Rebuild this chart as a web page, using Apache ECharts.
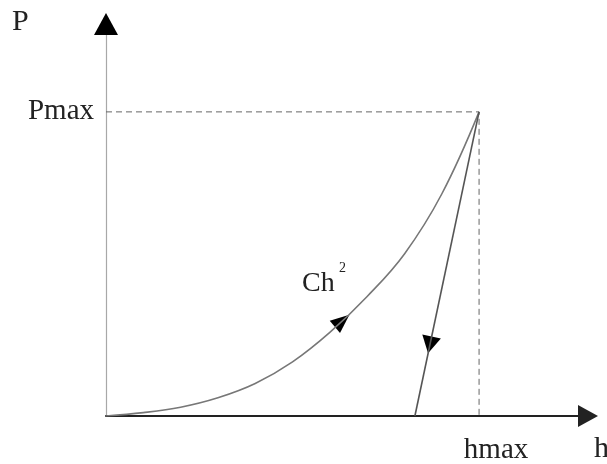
<!DOCTYPE html>
<html>
<head>
<meta charset="utf-8">
<script src="https://cdn.jsdelivr.net/npm/echarts@6/dist/echarts.min.js"></script>
<style>html,body{margin:0;padding:0;background:#fff}#c{width:607px;height:464px}</style>
</head>
<body>
<div id="c"></div>
<script>
// normalised displacement h (hmax = 1) and load P (Pmax = 1)
const loadH = [0, 0.1, 0.2, 0.3, 0.4, 0.5, 0.6, 0.7, 0.8, 0.9, 1];
const loadP = [0, 0.011, 0.029, 0.060, 0.107, 0.178, 0.275, 0.393, 0.533, 0.730, 1];
const unloadH = [1, 0.828];
const unloadP = [1, 0];
const refH = [0, 1, 1];
const refP = [1, 1, 0];
const arrowLoad = [0.633, 0.313];
const arrowUnload = [0.868, 0.234];
const xTickLabels = {1: 'hmax'};
const yTickLabels = {1: 'Pmax'};
const axisNames = {x: 'h', y: 'P'};
const curveLabel = 'Ch';
const curveLabelSup = '2';

const font = '"Liberation Serif", "DejaVu Serif", serif';
const zip = (a, b) => a.map((v, i) => [v, b[i]]);

const chart = echarts.init(document.getElementById('c'), null, {renderer: 'canvas'});
chart.setOption({
  backgroundColor: '#fff',
  animation: false,
  grid: {left: 106, top: 24, right: 19, bottom: 48, containLabel: false, outerBoundsMode: 'none'},
  xAxis: {
    type: 'value', min: 0, max: 1.292, interval: 1,
    splitLine: {show: false},
    axisTick: {show: false},
    axisLine: {show: true, symbol: ['none', 'triangle'], symbolSize: [22, 20],
      lineStyle: {color: '#222', width: 2}},
    axisLabel: {
      margin: 20, fontSize: 29, fontFamily: font, color: '#222',
      padding: [0, 0, 0, 34],
      formatter: v => xTickLabels[v] || ''
    }
  },
  yAxis: [{
    type: 'value', min: 0, max: 1.289, interval: 1,
    splitLine: {show: false},
    axisTick: {show: false},
    axisLine: {show: true, symbol: 'none', lineStyle: {color: '#a8a8a8', width: 1.2}},
    axisLabel: {
      margin: 12, fontSize: 29, fontFamily: font, color: '#222',
      formatter: v => yTickLabels[v] || ''
    }
  }, {
    type: 'value', min: 0, max: 1.289, interval: 1, position: 'left',
    splitLine: {show: false}, axisTick: {show: false}, axisLabel: {show: false},
    axisLine: {show: true, symbol: ['none', 'triangle'], symbolSize: [24, 22],
      lineStyle: {color: '#000', width: 0}}
  }],
  graphic: [
    {type: 'text', left: 12, top: 7, style: {text: axisNames.y, font: '30px ' + font, fill: '#222'}},
    {type: 'text', left: 594, top: 434, style: {text: axisNames.x, font: '30px ' + font, fill: '#222'}},
    {type: 'text', left: 302, top: 270, style: {text: curveLabel, font: '28px ' + font, fill: '#222'}},
    {type: 'text', left: 339, top: 261, style: {text: curveLabelSup, font: '14px ' + font, fill: '#222'}}
  ],
  series: [
    {type: 'line', data: zip(refH, refP), symbol: 'none', silent: true,
      lineStyle: {color: '#666', width: 1, type: [6, 4]}},
    {type: 'line', data: zip(loadH, loadP), smooth: 0.4, symbol: 'none', silent: true,
      lineStyle: {color: '#777', width: 1.6}},
    {type: 'line', data: zip(unloadH, unloadP), symbol: 'none', silent: true,
      lineStyle: {color: '#555', width: 1.6}},
    {type: 'scatter', data: [arrowLoad], symbol: 'triangle', symbolSize: [16, 19], symbolRotate: -50,
      itemStyle: {color: '#000', opacity: 1}, silent: true},
    {type: 'scatter', data: [arrowUnload], symbol: 'triangle', symbolSize: [19, 17], symbolRotate: 168,
      itemStyle: {color: '#000', opacity: 1}, silent: true}
  ]
});
</script>
</body>
</html>
